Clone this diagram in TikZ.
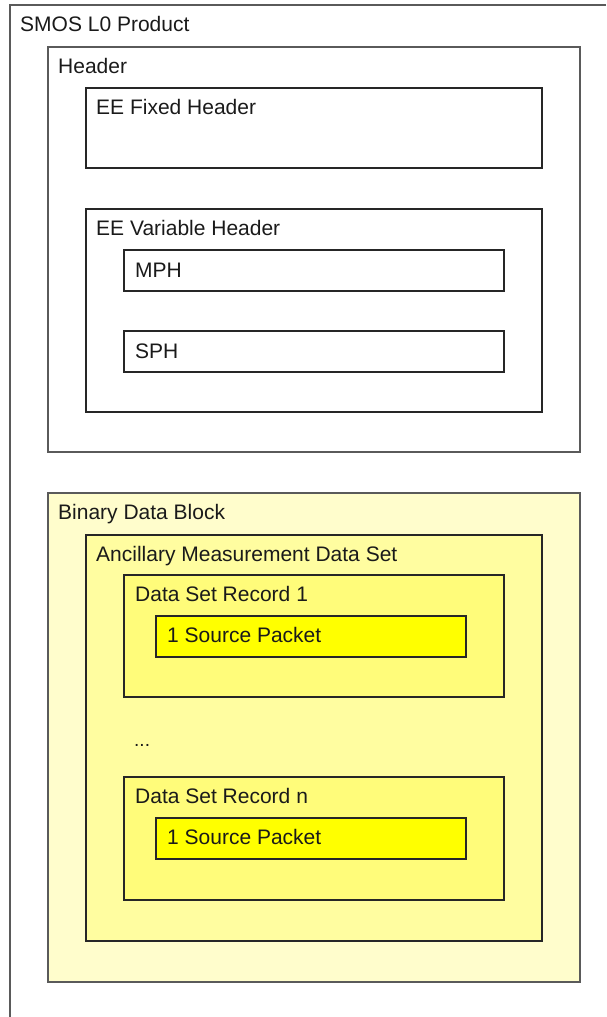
\documentclass[tikz,border=0pt]{standalone}
\usepackage{fontspec}
\setmainfont{Liberation Sans}
\usetikzlibrary{calc}
\definecolor{outerline}{HTML}{5A5A5A}
\definecolor{innerline}{HTML}{262626}
\definecolor{txt}{HTML}{1A1A1A}
\definecolor{binfill}{HTML}{FFFDCC}
\definecolor{ancfill}{HTML}{FFFDA0}
\definecolor{recfill}{HTML}{FFFC7A}
\definecolor{pktfill}{HTML}{FFFF00}
\begin{document}
\begin{tikzpicture}[x=1pt,y=-1pt,
  box/.style={draw=innerline, line width=1.7pt, inner sep=0pt, outer sep=0pt, anchor=north west},
  graybox/.style={box, draw=outerline},
  lbl/.style={anchor=base west, inner sep=0pt, text=txt, font=\fontsize{21}{25}\selectfont}]
\useasboundingbox (0,0) rectangle (606,1017);
% outer product frame (cropped)
\coordinate (otr) at (606,5);
\coordinate (otl) at (10,5);
\coordinate (obl) at (10,1017);
\draw[outerline, line width=1.8pt] (otr) -- (otl) -- (obl);
\node[lbl] (prodlbl) at (20,31) {SMOS L0 Product};
% header
\node[graybox, minimum width=532, minimum height=405] (header) at (48,47) {};
\node[lbl] (headerlbl) at ($(header.north west)+(10,26)$) {Header};
\node[box, minimum width=456, minimum height=80] (eefix) at (86,88) {};
\node[lbl] (eefixlbl) at ($(eefix.north west)+(10,26)$) {EE Fixed Header};
\node[box, minimum width=456, minimum height=203] (eevar) at (86,209) {};
\node[lbl] (eevarlbl) at ($(eevar.north west)+(10,26)$) {EE Variable Header};
\node[box, minimum width=380, minimum height=41] (mph) at (124,250) {};
\node[lbl] (mphlbl) at ($(mph.north west)+(11,27)$) {MPH};
\node[box, minimum width=380, minimum height=41] (sph) at (124,331) {};
\node[lbl] (sphlbl) at ($(sph.north west)+(11,27)$) {SPH};
% binary data block
\node[graybox, fill=binfill, minimum width=532, minimum height=489] (bin) at (48,493) {};
\node[lbl] (binlbl) at ($(bin.north west)+(10,26)$) {Binary Data Block};
\node[box, fill=ancfill, minimum width=456, minimum height=406] (anc) at (86,535) {};
\node[lbl] (anclbl) at ($(anc.north west)+(10,26)$) {Ancillary Measurement Data Set};
\node[box, fill=recfill, minimum width=380, minimum height=122] (rec1) at (124,575) {};
\node[lbl] (rec1lbl) at ($(rec1.north west)+(11,26)$) {Data Set Record 1};
\node[box, fill=pktfill, minimum width=310, minimum height=41] (pkt1) at (156,616) {};
\node[lbl] (pkt1lbl) at ($(pkt1.north west)+(11,26)$) {1 Source Packet};
\node[lbl, font=\fontsize{19}{22}\selectfont] (dots) at (134,746) {...};
\node[box, fill=recfill, minimum width=380, minimum height=123] (recn) at (124,777) {};
\node[lbl] (recnlbl) at ($(recn.north west)+(11,26)$) {Data Set Record n};
\node[box, fill=pktfill, minimum width=310, minimum height=41] (pktn) at (156,818) {};
\node[lbl] (pktnlbl) at ($(pktn.north west)+(11,26)$) {1 Source Packet};
\end{tikzpicture}
\end{document}
